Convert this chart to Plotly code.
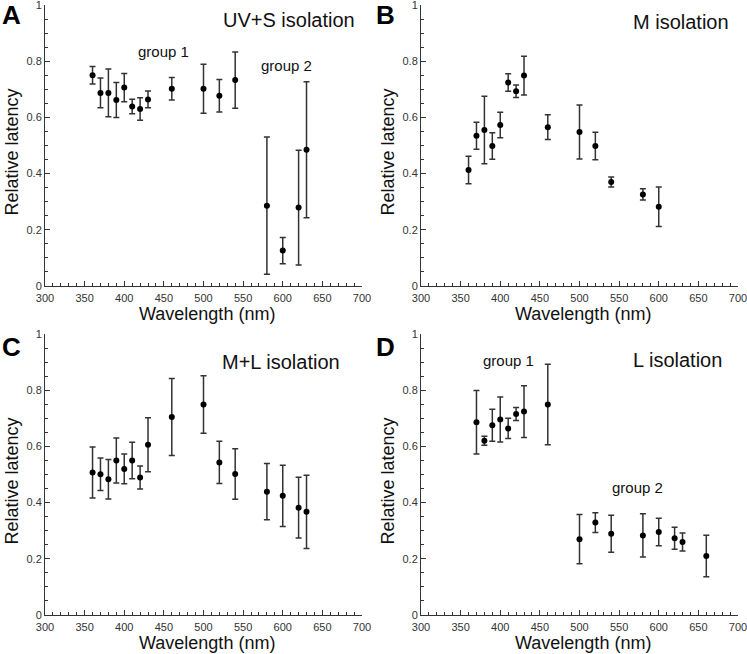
import plotly.graph_objects as go

# ---------------- data ----------------
wl_A = [360, 370, 380, 390, 400, 410, 420, 430, 460, 500, 520, 540, 580, 600, 620, 630]
lat_A = [0.750, 0.687, 0.687, 0.662, 0.706, 0.639, 0.630, 0.664, 0.702, 0.702, 0.677, 0.733, 0.286, 0.126, 0.279, 0.485]
err_A = [0.031, 0.053, 0.085, 0.062, 0.050, 0.026, 0.040, 0.030, 0.040, 0.087, 0.058, 0.100, 0.244, 0.047, 0.204, 0.242]

wl_B = [360, 370, 380, 390, 400, 410, 420, 430, 460, 500, 520, 540, 580, 600]
lat_B = [0.413, 0.535, 0.555, 0.498, 0.573, 0.724, 0.693, 0.749, 0.565, 0.548, 0.498, 0.370, 0.326, 0.282]
err_B = [0.049, 0.048, 0.120, 0.047, 0.045, 0.031, 0.022, 0.069, 0.044, 0.096, 0.049, 0.018, 0.020, 0.070]

wl_C = [360, 370, 380, 390, 400, 410, 420, 430, 460, 500, 520, 540, 580, 600, 620, 630]
lat_C = [0.507, 0.501, 0.483, 0.550, 0.520, 0.550, 0.489, 0.606, 0.705, 0.749, 0.543, 0.502, 0.439, 0.424, 0.382, 0.367]
err_C = [0.091, 0.058, 0.070, 0.080, 0.053, 0.065, 0.041, 0.096, 0.137, 0.102, 0.075, 0.090, 0.100, 0.109, 0.108, 0.130]

wl_D = [370, 380, 390, 400, 410, 420, 430, 460, 500, 520, 540, 580, 600, 620, 630, 660]
lat_D = [0.686, 0.620, 0.675, 0.696, 0.664, 0.715, 0.724, 0.749, 0.270, 0.329, 0.289, 0.283, 0.295, 0.273, 0.260, 0.210]
err_D = [0.113, 0.016, 0.057, 0.080, 0.036, 0.023, 0.092, 0.143, 0.088, 0.035, 0.066, 0.077, 0.049, 0.039, 0.032, 0.074]

panel_letters = ["A", "B", "C", "D"]
panel_titles = ["UV+S isolation", "M isolation", "M+L isolation", "L isolation"]
x_title = "Wavelength (nm)"
y_title = "Relative latency"

FONT = "Arial, Liberation Sans, sans-serif"
W, H = 747, 654

panels = [(wl_A, lat_A, err_A), (wl_B, lat_B, err_B), (wl_C, lat_C, err_C), (wl_D, lat_D, err_D)]

# pixel domains
xpix = [(45, 362), (421, 738)]
ypix = [(5, 286), (334, 615)]
xdom = [[a / W, b / W] for a, b in xpix]
ydom = [[1 - b / H, 1 - a / H] for a, b in ypix]

fig = go.Figure()
layout = dict(
    width=W, height=H, margin=dict(l=0, r=0, t=0, b=0),
    plot_bgcolor="white", paper_bgcolor="white", showlegend=False,
    font=dict(family=FONT, color="#222"),
)

for i, (xs, ys, es) in enumerate(panels):
    n = "" if i == 0 else str(i + 1)
    fig.add_trace(go.Scatter(
        x=xs, y=ys, mode="markers",
        marker=dict(color="black", size=6),
        error_y=dict(type="data", array=es, visible=True, color="#333", thickness=1.5, width=3),
        xaxis="x" + n, yaxis="y" + n,
    ))
    col, row = i % 2, i // 2
    layout["xaxis" + n] = dict(
        domain=xdom[col], anchor="y" + n, range=[300, 700], dtick=50, tick0=300,
        showgrid=False, zeroline=False, showline=True, linecolor="#333", linewidth=1,
        ticks="inside", ticklen=5, tickcolor="#333",
        minor=dict(dtick=10, ticks="inside", ticklen=3, tickcolor="#333"),
        tickfont=dict(size=11, color="#333", family=FONT),
        ticklabelstandoff=2, ticklabeloverflow="allow",
        automargin=False,
    )
    layout["yaxis" + n] = dict(
        domain=ydom[row], anchor="x" + n, range=[0, 1], dtick=0.2,
        showgrid=False, zeroline=False, showline=True, linecolor="#333", linewidth=1,
        ticks="inside", ticklen=5, tickcolor="#333",
        minor=dict(dtick=0.05, ticks="inside", ticklen=3, tickcolor="#333"),
        tickfont=dict(size=11, color="#333", family=FONT),
        ticklabelstandoff=0, ticklabeloverflow="allow",
        automargin=False,
    )

ann = []
# axis titles
for col in range(2):
    for row in range(2):
        x0, x1 = xpix[col]
        y0, y1 = ypix[row]
        ann.append(dict(text=x_title, x=((x0 + x1) / 2 + 3) / W, y=1 - (y1 + 28) / H,
                        xref="paper", yref="paper", showarrow=False,
                        xanchor="center", yanchor="middle",
                        font=dict(size=18, color="#111", family=FONT)))
        ann.append(dict(text=y_title, x=(x0 - 34) / W, y=1 - ((y0 + y1) / 2 + 7) / H,
                        xref="paper", yref="paper", showarrow=False, textangle=-90,
                        xanchor="center", yanchor="middle",
                        font=dict(size=18, color="#111", family=FONT)))

# panel letters
letter_pos = [(11, 15), (385, 15), (11, 347), (385, 347)]
for L, (px, py) in zip(panel_letters, letter_pos):
    ann.append(dict(text="<b>%s</b>" % L, x=px / W, y=1 - py / H, xref="paper", yref="paper",
                    showarrow=False, font=dict(size=26, color="black", family=FONT),
                    xanchor="center", yanchor="middle"))

# panel titles (axis coordinates)
title_pos = [(694, 0.947), (691, 0.94), (675, 0.90), (682, 0.907)]
for i, (t, (tx, ty)) in enumerate(zip(panel_titles, title_pos)):
    n = "" if i == 0 else str(i + 1)
    ann.append(dict(text=t, x=tx, y=ty, xref="x" + n, yref="y" + n, showarrow=False,
                    xanchor="right", yanchor="middle", font=dict(size=20, color="#111", family=FONT)))

groups = [("group 1", 450, 0.833, ""), ("group 2", 605, 0.783, ""),
          ("group 1", 410, 0.907, "4"), ("group 2", 573, 0.455, "4")]
for t, gx, gy, n in groups:
    ann.append(dict(text=t, x=gx, y=gy, xref="x" + n, yref="y" + n, showarrow=False,
                    xanchor="center", yanchor="middle", font=dict(size=15, color="#111", family=FONT)))

layout["annotations"] = ann
fig.update_layout(**layout)
fig.write_html("out.html", config={"displayModeBar": False},
               post_script="document.body.style.margin='0';document.body.style.overflow='hidden';")
